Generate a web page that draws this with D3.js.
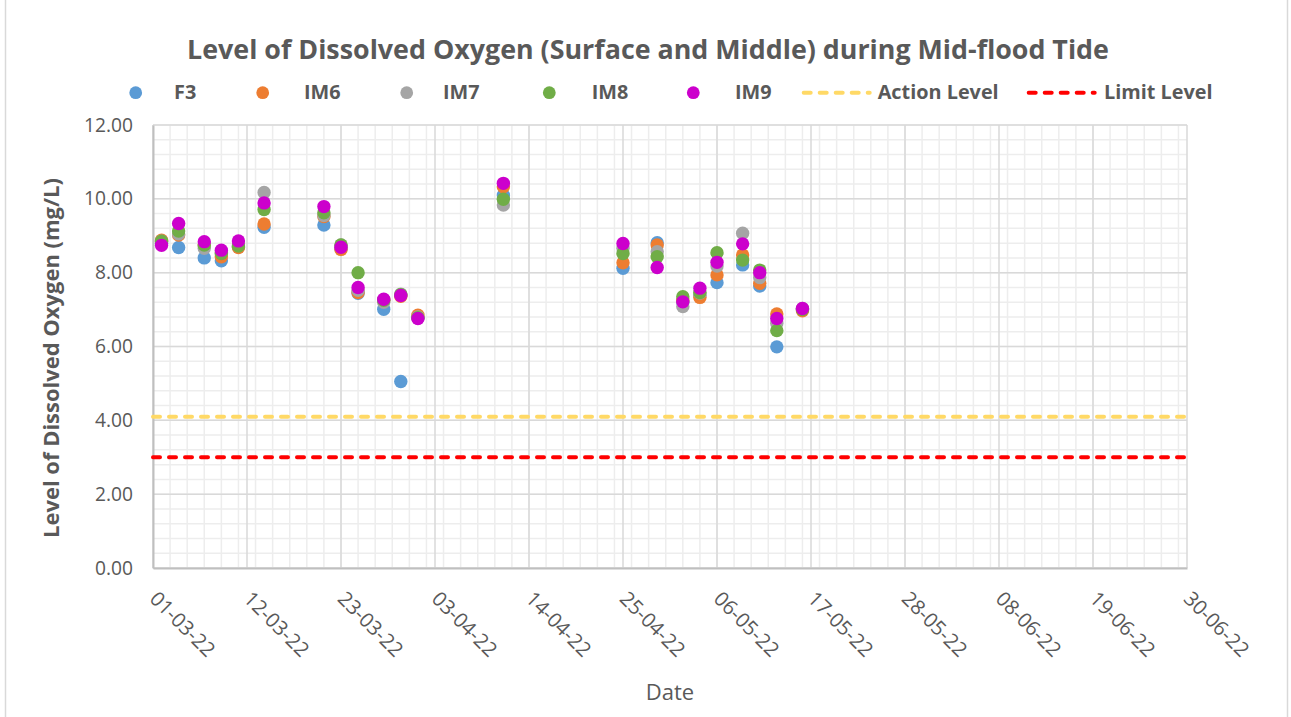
<!DOCTYPE html>
<html>
<head>
<meta charset="utf-8">
<script src="https://cdn.jsdelivr.net/npm/d3@7"></script>
<style>
    body { margin: 0; background: #ffffff; }
    text { font-family: "Open Sans", sans-serif; fill: #595959; }
</style>
</head>
<body>
<div id="d3plot"></div>
<script>
// Data
// ==================================================================
const dates = ["2022-03-02", "2022-03-04", "2022-03-07", "2022-03-09", "2022-03-11",
    "2022-03-14", "2022-03-21", "2022-03-23", "2022-03-25", "2022-03-28", "2022-03-30",
    "2022-04-01", "2022-04-11", "2022-04-25", "2022-04-29", "2022-05-02", "2022-05-04",
    "2022-05-06", "2022-05-09", "2022-05-11", "2022-05-13", "2022-05-16"];

const seriesNames = ["F3", "IM6", "IM7", "IM8", "IM9"];

const valuesF3  = [8.80, 8.68, 8.40, 8.32, 8.70, 9.23, 9.29, 8.65, 7.44, 7.01, 5.05,
    6.78, 10.10, 8.12, 8.81, 7.20, 7.38, 7.73, 8.21, 7.64, 5.99, 7.00];
const valuesIM6 = [8.88, 9.02, 8.75, 8.43, 8.68, 9.32, 9.52, 8.63, 7.46, 7.25, 7.36,
    6.85, 10.33, 8.27, 8.75, 7.25, 7.33, 7.94, 8.48, 7.71, 6.88, 6.97];
const valuesIM7 = [8.85, 9.05, 8.66, 8.55, 8.75, 10.17, 9.55, 8.75, 7.52, 7.20, 7.42,
    6.80, 9.83, 8.66, 8.57, 7.08, 7.45, 8.18, 9.07, 7.87, 6.63, 7.03];
const valuesIM8 = [8.85, 9.13, 8.75, 8.52, 8.72, 9.71, 9.62, 8.75, 8.00, 7.25, 7.40,
    6.78, 9.99, 8.52, 8.43, 7.35, 7.46, 8.54, 8.34, 8.07, 6.43, 7.00];
const valuesIM9 = [8.74, 9.33, 8.84, 8.61, 8.86, 9.89, 9.79, 8.69, 7.60, 7.28, 7.38,
    6.76, 10.42, 8.79, 8.14, 7.21, 7.58, 8.28, 8.78, 8.00, 6.76, 7.03];

const levelNames = ["Action Level", "Limit Level"];
const levelValues = [4.1, 3.0];

const yTickValues = [0, 2, 4, 6, 8, 10, 12];
const xDomain = ["2022-03-01", "2022-06-30"];

// Layout and styles
// ==================================================================
const width = 1291,
    height = 717,
    plot = {left: 153, right: 1187, top: 125, bottom: 568},
    seriesColors = ["#5B9BD5", "#ED7D31", "#A5A5A5", "#70AD47", "#CC00CC"],
    levelColors = ["#FFD966", "#FF0000"],
    // legend slots: marker centre / line start and label start
    legendMarkerX = [135.7, 262.7, 406.7, 549.3, 693.3],
    legendLabelX = [174, 304, 443, 591.7, 735],
    legendLineX = [801.7, 1026.7],
    legendLineLabelX = [877.7, 1104];

const parseDate = d3.utcParse("%Y-%m-%d");

/**
 * Set the font size of a text so that it spans the wanted width
 */
function fit_text(sel, target) {
    const base = 20;
    sel.attr("font-size", base);
    const w = sel.node().getComputedTextLength();
    const size = base * target / w;
    sel.attr("font-size", size);
    return size;
}

// Scales
// ==================================================================
const x0 = parseDate(xDomain[0]),
    x1 = parseDate(xDomain[1]);

const xScale = d3.scaleUtc()
    .domain([x0, x1])
    .range([plot.left, plot.right]);

const yScale = d3.scaleLinear()
    .domain([0, 12])
    .range([plot.bottom, plot.top]);

const majorDays = d3.utcDay.range(x0, d3.utcDay.offset(x1, 1), 11);
const minorDays = d3.utcDay.range(x0, d3.utcDay.offset(x1, 1), 2);
const minorY = d3.range(0, 12.001, 0.4);

// Add svg
// ==================================================================
const svg = d3.select("#d3plot")
    .append("svg")
        .attr("width", width)
        .attr("height", height);

svg.append("rect")
    .attr("x", 5.5)
    .attr("y", -5)
    .attr("width", 1282)
    .attr("height", height + 10)
    .attr("fill", "#ffffff")
    .attr("stroke", "#D9D9D9")
    .attr("stroke-width", 1.5);

// Gridlines
// ==================================================================
const grid = svg.append("g");

grid.selectAll("line.minor-x")
    .data(minorDays)
    .enter()
    .append("line")
        .attr("x1", d => xScale(d))
        .attr("x2", d => xScale(d))
        .attr("y1", plot.top)
        .attr("y2", plot.bottom)
        .attr("stroke", "#EDEDED")
        .attr("stroke-width", 1.5);

grid.selectAll("line.minor-y")
    .data(minorY)
    .enter()
    .append("line")
        .attr("x1", plot.left)
        .attr("x2", plot.right)
        .attr("y1", d => yScale(d))
        .attr("y2", d => yScale(d))
        .attr("stroke", "#EDEDED")
        .attr("stroke-width", 1.5);

grid.selectAll("line.major-x")
    .data(majorDays)
    .enter()
    .append("line")
        .attr("x1", d => xScale(d))
        .attr("x2", d => xScale(d))
        .attr("y1", plot.top)
        .attr("y2", plot.bottom)
        .attr("stroke", "#D9D9D9")
        .attr("stroke-width", 1.5);

grid.selectAll("line.major-y")
    .data(yTickValues)
    .enter()
    .append("line")
        .attr("x1", plot.left)
        .attr("x2", plot.right)
        .attr("y1", d => yScale(d))
        .attr("y2", d => yScale(d))
        .attr("stroke", "#D9D9D9")
        .attr("stroke-width", 1.5);

// Axes
// ==================================================================
const xAxis = svg.append("g")
    .attr("transform", "translate(0," + plot.bottom + ")")
    .call(d3.axisBottom(xScale)
        .tickValues(majorDays)
        .tickFormat(d3.utcFormat("%d-%m-%y"))
        .tickSize(0));

xAxis.select(".domain")
    .attr("stroke", "#BFBFBF")
    .attr("stroke-width", 2);

const yAxis = svg.append("g")
    .attr("transform", "translate(" + plot.left + ",0)")
    .call(d3.axisLeft(yScale)
        .tickValues(yTickValues)
        .tickFormat(d3.format(".2f"))
        .tickSize(0)
        .tickPadding(20));

yAxis.select(".domain")
    .attr("stroke", "#BFBFBF")
    .attr("stroke-width", 2);

// tick label size taken from the width of "12.00"
const tickSize = fit_text(yAxis.select(".tick:last-of-type text"), 49);
yAxis.selectAll(".tick text")
    .attr("font-size", tickSize)
    .attr("font-family", "Open Sans")
    .attr("fill", "#595959");

xAxis.selectAll(".tick text")
    .attr("font-size", tickSize + 1)
    .attr("font-family", "Open Sans")
    .attr("fill", "#595959")
    .attr("text-anchor", "start")
    .attr("dy", 0)
    .attr("y", 0)
    .attr("transform", "translate(-5,32) rotate(45)");

svg.append("text")
    .attr("x", (plot.left + plot.right) / 2)
    .attr("y", 700)
    .attr("text-anchor", "middle")
    .attr("font-size", 22)
    .text("Date");

const yTitle = svg.append("text")
    .attr("transform", "translate(59,358) rotate(-90)")
    .attr("text-anchor", "middle")
    .attr("font-weight", "bold")
    .text("Level of Dissolved Oxygen (mg/L)");
fit_text(yTitle, 360);

// Level lines
// ==================================================================
svg.selectAll("line.level")
    .data(levelValues)
    .enter()
    .append("line")
        .attr("x1", xScale(x0))
        .attr("x2", xScale(x1))
        .attr("y1", d => yScale(d))
        .attr("y2", d => yScale(d))
        .attr("stroke", (d, i) => levelColors[i])
        .attr("stroke-width", 4)
        .attr("stroke-linecap", "round")
        .attr("stroke-dasharray", "7 9");

// Points
// ==================================================================
const allValues = [valuesF3, valuesIM6, valuesIM7, valuesIM8, valuesIM9];

const pointData = allValues.map((vals, s) =>
    vals.map((v, i) => ({date: parseDate(dates[i]), value: v, series: s})));

svg.selectAll("g.series")
    .data(pointData)
    .enter()
    .append("g")
        .attr("fill", (d, i) => seriesColors[i])
    .selectAll("circle")
    .data(d => d)
    .enter()
    .append("circle")
        .attr("cx", d => xScale(d.date))
        .attr("cy", d => yScale(d.value))
        .attr("r", 6.7);

// Title
// ==================================================================
const title = svg.append("text")
    .attr("x", 648)
    .attr("y", 59)
    .attr("text-anchor", "middle")
    .attr("font-weight", "bold")
    .text("Level of Dissolved Oxygen (Surface and Middle) during Mid-flood Tide");
fit_text(title, 922);

// Legend
// ==================================================================
const legend = svg.append("g");

legend.selectAll("circle")
    .data(seriesNames)
    .enter()
    .append("circle")
        .attr("cx", (d, i) => legendMarkerX[i])
        .attr("cy", 92.7)
        .attr("r", 6.4)
        .attr("fill", (d, i) => seriesColors[i]);

legend.selectAll("line")
    .data(levelNames)
    .enter()
    .append("line")
        .attr("x1", (d, i) => legendLineX[i] + 2)
        .attr("x2", (d, i) => legendLineX[i] + 68)
        .attr("y1", 92.7)
        .attr("y2", 92.7)
        .attr("stroke", (d, i) => levelColors[i])
        .attr("stroke-width", 4)
        .attr("stroke-linecap", "round")
        .attr("stroke-dasharray", "7 9");

const levelLabels = legend.selectAll("text.level")
    .data(levelNames)
    .enter()
    .append("text")
        .attr("x", (d, i) => legendLineLabelX[i])
        .attr("y", 99.3)
        .attr("font-weight", "bold")
        .text(d => d);

// legend size taken from the width of "Action Level"
const legendSize = fit_text(d3.select(levelLabels.nodes()[0]), 121);
levelLabels.attr("font-size", legendSize);

legend.selectAll("text.series")
    .data(seriesNames)
    .enter()
    .append("text")
        .attr("x", (d, i) => legendLabelX[i])
        .attr("y", 99.3)
        .attr("font-weight", "bold")
        .attr("font-size", legendSize)
        .text(d => d);
</script>
</body>
</html>
